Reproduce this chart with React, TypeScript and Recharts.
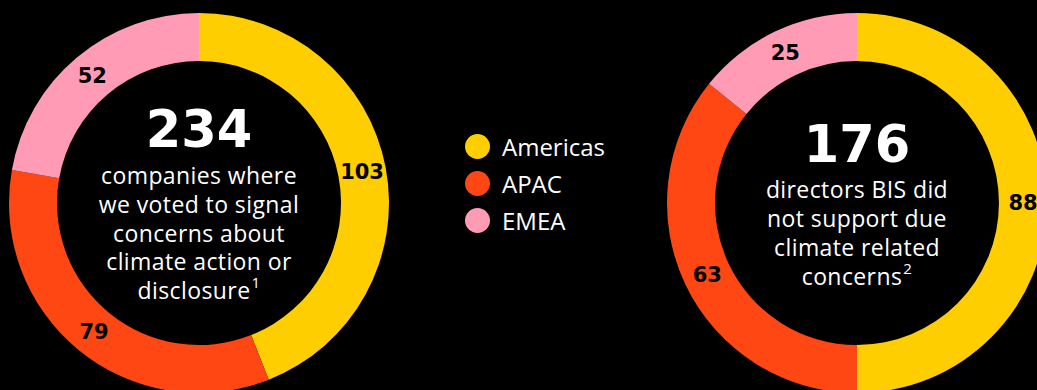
import React from "react";
import { PieChart, Pie, Cell, Label, Legend } from "recharts";

const regions = ["Americas", "APAC", "EMEA"];
const regionColors = ["#FFCE00", "#FF4713", "#FF9BB5"];
const companiesValues = [103, 79, 52];
const directorsValues = [88, 63, 25];
const companiesLines = ["companies where", "we voted to signal", "concerns about", "climate action or", "disclosure"];
const directorsLines = ["directors BIS did", "not support due", "climate related", "concerns"];
const companiesNote = "1";
const directorsNote = "2";

const companiesData = regions.map((name, i) => ({ name, value: companiesValues[i] }));
const directorsData = regions.map((name, i) => ({ name, value: directorsValues[i] }));

const RADIAN = Math.PI / 180;
const bodyFont = "'Open Sans', sans-serif";
const boldFont = "'DejaVu Sans', sans-serif";
const leftCx = 199;
const rightCx = 857;
const pieCy = 203;

const ringLabel = (props: any) => {
  const { cx, cy, midAngle, innerRadius, outerRadius, value } = props;
  const r = (innerRadius + outerRadius) / 2;
  const x = cx + r * Math.cos(-midAngle * RADIAN);
  const y = cy + r * Math.sin(-midAngle * RADIAN);
  return (
    <text x={x} y={y} fill="#000" textAnchor="middle" dominantBaseline="central"
      fontFamily={boldFont} fontWeight="bold" fontSize={21}>
      {value}
    </text>
  );
};

// center block: big total, then the wrapped caption with a footnote mark
const centerText = (cx: number, cy: number, total: number, lines: string[], note: string) => () => {
  const lineH = 28.8;
  const gap = 45;
  const top = cy + 7 - (gap + (lines.length - 1) * lineH) / 2;
  return (
    <g>
      <text x={cx} y={top} fill="#fff" textAnchor="middle" dominantBaseline="central"
        fontFamily={boldFont} fontWeight="bold" fontSize={51}>
        {total}
      </text>
      {lines.map((line, i) => (
        <text key={i} x={cx} y={top + gap + i * lineH} fill="#fff" textAnchor="middle"
          dominantBaseline="central" fontFamily={bodyFont} fontSize={23} letterSpacing={0.4}>
          {line}
          {i === lines.length - 1 ? (
            <tspan fontSize={15} dx={1} dy={-8}>{note}</tspan>
          ) : null}
        </text>
      ))}
    </g>
  );
};

const LegendBox = () => (
  <div style={{ fontFamily: bodyFont, color: "#fff" }}>
    {regions.map((name, i) => (
      <div key={name} style={{ display: "flex", alignItems: "center", height: 37 }}>
        <span style={{ width: 25, height: 25, borderRadius: "50%", background: regionColors[i], display: "inline-block", marginRight: 12 }} />
        <span style={{ fontSize: 24 }}>{name}</span>
      </div>
    ))}
  </div>
);

export default function App() {
  const sum = (a: number[]) => a.reduce((s, v) => s + v, 0);
  return (
    <div style={{ position: "absolute", left: 0, top: 0, width: 1037, height: 390, background: "#000", overflow: "hidden" }}>
      <PieChart width={1037} height={390} margin={{ top: 0, right: 0, bottom: 0, left: 0 }}>
        <Pie data={companiesData} dataKey="value" nameKey="name" cx={leftCx} cy={pieCy}
          innerRadius={142} outerRadius={190} startAngle={90} endAngle={-270}
          stroke="none" label={ringLabel} labelLine={false} isAnimationActive={false}>
          {companiesData.map((d, i) => <Cell key={d.name} fill={regionColors[i]} />)}
          <Label position="center" content={centerText(leftCx, pieCy, sum(companiesValues), companiesLines, companiesNote)} />
        </Pie>
        <Pie data={directorsData} dataKey="value" nameKey="name" cx={rightCx} cy={pieCy}
          innerRadius={142} outerRadius={190} startAngle={90} endAngle={-270}
          stroke="none" label={ringLabel} labelLine={false} isAnimationActive={false}>
          {directorsData.map((d, i) => <Cell key={d.name} fill={regionColors[i]} />)}
          <Label position="center" content={centerText(rightCx, pieCy, sum(directorsValues), directorsLines, directorsNote)} />
        </Pie>
        <Legend content={LegendBox} wrapperStyle={{ position: "absolute", left: 465, top: 128, width: 170 }} />
      </PieChart>
    </div>
  );
}
